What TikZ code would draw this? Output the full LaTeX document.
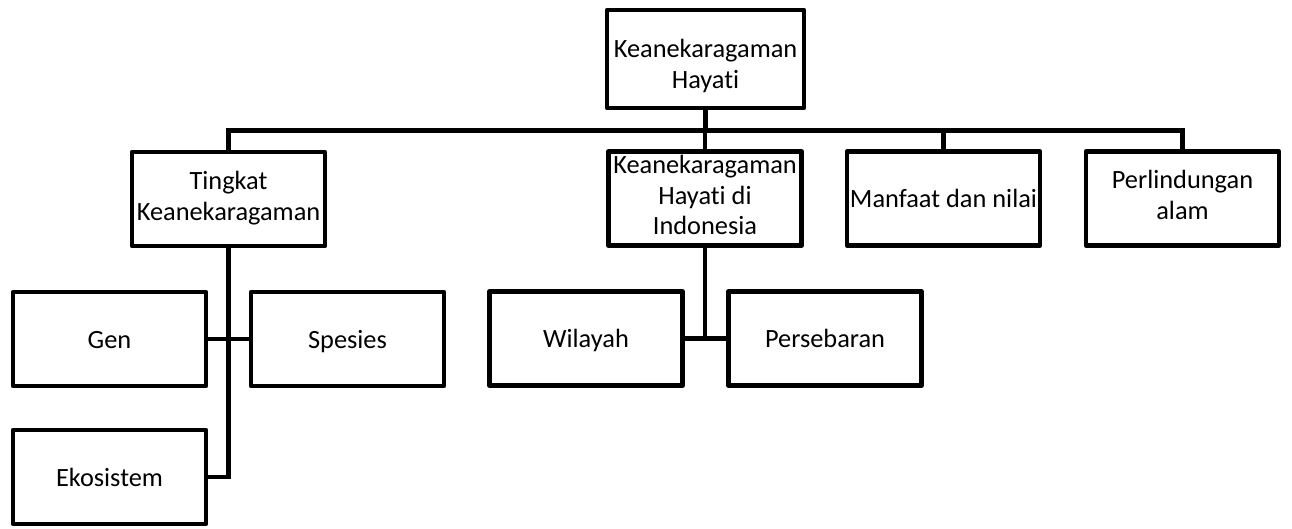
\documentclass[tikz,border=0pt]{standalone}
\usepackage{fontspec}
\setmainfont{Carlito}[Ligatures=NoCommon]
\usepackage{tikz}
\usetikzlibrary{
    positioning,
    calc,
}
\newcommand{\boxtop}{\rule{0pt}{14.5pt}}
\newcommand{\boxbot}{\rule[-4pt]{0pt}{4pt}}

\begin{document}
\begin{tikzpicture}[
        box/.style={draw, line width=2.6pt, line join=round, minimum width=3.86cm, minimum height=1.88cm, inner sep=0pt, align=center, execute at begin node=\boxtop, execute at end node=\boxbot, font=\fontsize{15}{17.5}\selectfont},
        link/.style={line width=2.6pt},
    ]
        \useasboundingbox (0,0) rectangle (25.84,-10.56);
        \node[box, minimum width=3.94cm, minimum height=1.96cm] (KH) at (14.11,-1.18) {\rule{0pt}{20pt}Keanekaragaman\\Hayati};
        \node[box] (T) at (4.57,-3.98) {Tingkat\\Keanekaragaman};
        \node[box] (I) at (14.10,-3.97) {Keanekaragaman\\Hayati di\\Indonesia};
        \node[box] (M) at (18.87,-3.97) {Manfaat dan nilai};
        \node[box] (P) at (23.65,-3.97) {Perlindungan\\alam};
        \node[box] (G) at (2.19,-6.78) {Gen};
        \node[box] (S) at (6.95,-6.78) {Spesies};
        \node[box] (E) at (2.19,-9.54) {Ekosistem};
        \node[box] (W) at (11.72,-6.77) {Wilayah};
        \node[box] (Pr) at (16.50,-6.77) {Persebaran};
        % bus below the top box
        \coordinate (bus) at ($(KH.south)+(0,-0.4)$);
        \draw[link] (KH.south) -- (bus);
        \draw[link] (bus) -| (T.north);
        \draw[link] (bus) -| (I.north);
        \draw[link] (bus) -| (M.north);
        \draw[link] (bus) -| (P.north);
        % second level
        \draw[link] (T.south) |- (G.east);
        \draw[link] (T.south) |- (S.west);
        \draw[link] (T.south) |- (E.east);
        \draw[link] (I.south) |- (W.east);
        \draw[link] (I.south) |- (Pr.west);
    \end{tikzpicture}
\end{document}
